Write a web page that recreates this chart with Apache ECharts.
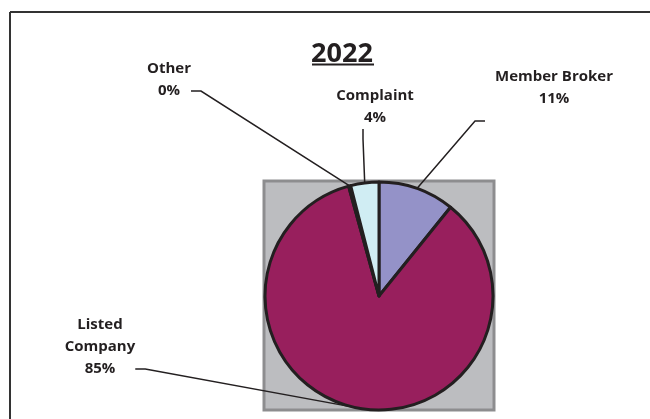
<!DOCTYPE html>
<html><head><meta charset="utf-8">
<script src="https://cdn.jsdelivr.net/npm/echarts@6/dist/echarts.min.js"></script>
<style>html,body{margin:0;padding:0;background:#fff}#c{width:650px;height:419px}</style>
</head><body><div id="c"></div>
<script>
const titleText = '2022';
const categories = ['Member Broker', 'Listed Company', 'Other', 'Complaint'];
const labelNames = ['Member Broker', 'Listed\nCompany', 'Other', 'Complaint'];
const values = [10.8, 84.9, 0.3, 4.0];
const colors = ['#9492c8', '#981f5d', '#2a1a22', '#d0edf3'];
// label layout only: box centre, padding, trailing blank rows (moves leader-line anchor)
const labelPos = [[549, 121], [100, 369], [169, 91], [363, 107]];
const labelPad = [[0, 0, 0, 10], [0, 0, 0, 0], [0, 0, 0, 0], [0, 0, 0, 24]];
const labelBlankRows = [3, 2, 1, 0];

const chart = echarts.init(document.getElementById('c'));
const FONT = '"Open Sans", sans-serif';
chart.setOption({
  animation: false,
  title: {
    text: titleText, left: 337, top: 36, textAlign: 'center',
    textStyle: {fontFamily: FONT, fontWeight: 'bold', fontSize: 27, color: '#231f20'}
  },
  graphic: [
    {type: 'line', shape: {x1: 10, y1: 12, x2: 650, y2: 12}, style: {stroke: '#333', lineWidth: 2}},
    {type: 'line', shape: {x1: 10, y1: 12, x2: 10, y2: 419}, style: {stroke: '#333', lineWidth: 2}},
    {type: 'line', shape: {x1: 312, y1: 64.5, x2: 374, y2: 64.5}, style: {stroke: '#231f20', lineWidth: 2}},
    {type: 'rect', z: -10, shape: {x: 264, y: 181, width: 230, height: 229},
     style: {fill: '#bcbdc0', stroke: '#8d8d8f', lineWidth: 3}}
  ],
  series: [{
    type: 'pie',
    center: [379, 296],
    radius: 114,
    startAngle: 90,
    clockwise: true,
    percentPrecision: 0,
    itemStyle: {borderColor: '#231f20', borderWidth: 3},
    data: categories.map((c, i) => ({
      name: c, value: values[i], itemStyle: {color: colors[i]},
      label: {padding: labelPad[i]}
    })),
    label: {
      show: true,
      formatter: p => labelNames[p.dataIndex] + '\n' + Math.round(p.percent) + '%' +
        '\n '.repeat(labelBlankRows[p.dataIndex]),
      fontFamily: FONT, fontWeight: 'bold', fontSize: 15, color: '#231f20',
      lineHeight: 22, align: 'center'
    },
    labelLine: {show: true, lineStyle: {color: '#231f20', width: 1.5}, length: 20, length2: 10},
    labelLayout: function (params) {
      const p = labelPos[params.dataIndex];
      return {x: p[0], y: p[1], align: 'center', verticalAlign: 'middle'};
    }
  }]
});
</script></body></html>
